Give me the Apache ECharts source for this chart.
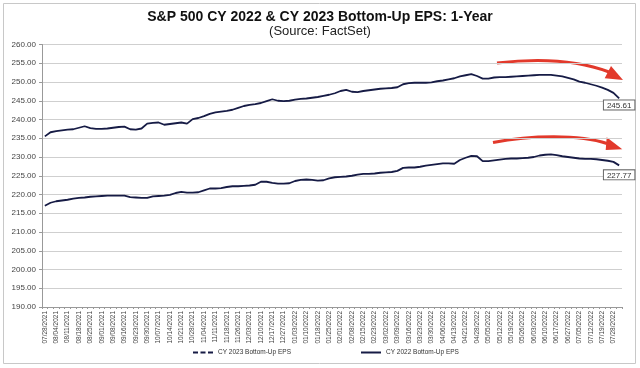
<!DOCTYPE html>
<html>
<head>
<meta charset="utf-8">
<script src="https://cdn.jsdelivr.net/npm/echarts@6/dist/echarts.min.js"></script>
<style>
  html, body { margin: 0; padding: 0; background: #fff; }
  #chart { width: 640px; height: 368px; }
</style>
</head>
<body>
<div id="chart"></div>
<script>
// Tick labels (weekly), each followed by one unlabeled mid-week point
const dateLabels = [
  '07/28/2021','08/04/2021','08/11/2021','08/18/2021','08/25/2021','09/01/2021','09/08/2021','09/16/2021','09/23/2021','09/30/2021',
  '10/07/2021','10/14/2021','10/21/2021','10/28/2021','11/04/2021','11/11/2021','11/18/2021','11/26/2021','12/03/2021','12/10/2021',
  '12/17/2021','12/27/2021','01/03/2022','01/10/2022','01/18/2022','01/25/2022','02/01/2022','02/08/2022','02/15/2022','02/23/2022',
  '03/02/2022','03/09/2022','03/16/2022','03/23/2022','03/30/2022','04/06/2022','04/13/2022','04/21/2022','04/28/2022','05/05/2022',
  '05/12/2022','05/19/2022','05/26/2022','06/03/2022','06/10/2022','06/17/2022','06/27/2022','07/05/2022','07/12/2022','07/19/2022',
  '07/28/2022'
];

// CY 2023 Bottom-Up EPS (upper line)
const cy2023 = [
  235.5,236.6,236.9,237.1,237.3,237.4,237.8,238.2,237.7,237.5,
  237.5,237.6,237.8,238.0,238.1,237.4,237.3,237.6,238.9,239.1,
  239.2,238.6,238.8,239.0,239.2,238.9,240.1,240.4,240.9,241.5,
  241.9,242.1,242.3,242.6,243.1,243.6,243.9,244.1,244.4,244.9,
  245.4,245.0,244.9,245.0,245.3,245.5,245.6,245.8,246.0,246.3,
  246.6,247.0,247.6,247.9,247.4,247.3,247.6,247.8,248.0,248.2,
  248.3,248.4,248.6,249.4,249.7,249.8,249.8,249.8,249.9,250.2,
  250.4,250.7,251.0,251.5,251.8,252.1,251.6,250.9,250.9,251.2,
  251.3,251.3,251.4,251.5,251.6,251.7,251.8,251.9,251.9,251.9,
  251.7,251.5,251.1,250.7,250.1,249.8,249.4,249.0,248.5,247.9,
  247.1,245.61
];

// CY 2022 Bottom-Up EPS (lower line)
const cy2022 = [
  217.0,217.8,218.2,218.4,218.6,218.9,219.1,219.2,219.4,219.5,
  219.6,219.7,219.7,219.7,219.7,219.3,219.2,219.1,219.1,219.5,
  219.6,219.7,219.9,220.4,220.7,220.5,220.5,220.6,221.1,221.6,
  221.6,221.7,222.0,222.2,222.2,222.3,222.4,222.6,223.4,223.4,
  223.1,222.9,222.9,223.0,223.6,223.9,224.0,223.9,223.7,223.8,
  224.3,224.6,224.7,224.8,225.0,225.3,225.5,225.5,225.6,225.8,
  225.9,226.0,226.3,227.1,227.2,227.2,227.4,227.7,227.9,228.1,
  228.3,228.3,228.2,229.2,229.8,230.3,230.2,228.9,228.9,229.1,
  229.3,229.5,229.6,229.6,229.7,229.8,230.0,230.4,230.6,230.7,
  230.5,230.2,230.0,229.8,229.6,229.5,229.5,229.4,229.2,229.0,
  228.7,227.77
];

const seriesNames = ['CY 2023 Bottom-Up EPS', 'CY 2022 Bottom-Up EPS'];
const lineColor = '#161b45';
const font = 'Liberation Sans, Arial, sans-serif';

const categories = [];
dateLabels.forEach(d => { categories.push(d); categories.push(''); });

function endMark(arr, dist) {
  const last = arr[arr.length - 1];
  return {
    symbol: 'rect', symbolSize: 0, silent: true,
    label: {
      show: true, position: 'bottom', distance: dist,
      formatter: () => last.toFixed(2),
      fontFamily: font, fontSize: 8, color: '#333',
      backgroundColor: '#fff', borderColor: '#666', borderWidth: 1, padding: [1, 3, 0, 3]
    },
    data: [{ coord: [arr.length - 1, last], value: last }]
  };
}

const chart = echarts.init(document.getElementById('chart'), null, { renderer: 'canvas' });

chart.setOption({
  animation: false,
  backgroundColor: '#fff',
  title: {
    text: 'S&P 500 CY 2022 & CY 2023 Bottom-Up EPS: 1-Year',
    subtext: '(Source: FactSet)',
    left: 'center', top: 5, itemGap: 1,
    textStyle: { fontFamily: font, fontSize: 14, fontWeight: 'bold', color: '#111' },
    subtextStyle: { fontFamily: font, fontSize: 13, color: '#222' }
  },
  grid: { left: 42, right: 18, top: 44.5, bottom: 61, containLabel: false },
  legend: {
    bottom: 7, left: 188, itemGap: 70, itemWidth: 20, itemHeight: 2,
    symbolKeepAspect: false,
    textStyle: { fontFamily: font, fontSize: 6.5, color: '#333' },
    data: [
      { name: seriesNames[0], icon: 'path://M0,0h4v2h-4z M6,0h4v2h-4z M12,0h4v2h-4z' },
      { name: seriesNames[1], icon: 'path://M0,0h16v2h-16z' }
    ]
  },
  xAxis: {
    type: 'category', data: categories, boundaryGap: true,
    axisLine: { lineStyle: { color: '#999', width: 1 } },
    axisTick: { show: true, interval: 0, length: 2, lineStyle: { color: '#999' } },
    axisLabel: { interval: 1, rotate: 90, fontFamily: font, fontSize: 6.5, color: '#444', margin: 4 },
    splitLine: { show: false }
  },
  yAxis: {
    type: 'value', min: 190, max: 260, interval: 5,
    axisLine: { show: true, lineStyle: { color: '#999' } },
    axisTick: { show: true, length: 3, lineStyle: { color: '#999' } },
    axisLabel: { formatter: v => v.toFixed(2), fontFamily: font, fontSize: 8, color: '#444', margin: 6 },
    splitLine: { lineStyle: { color: '#cfcfcf', width: 1 } }
  },
  series: [
    {
      name: seriesNames[0], type: 'line', data: cy2023,
      symbol: 'none', lineStyle: { color: lineColor, width: 1.8 }, itemStyle: { color: lineColor },
      markPoint: endMark(cy2023, 2)
    },
    {
      name: seriesNames[1], type: 'line', data: cy2022,
      symbol: 'none', lineStyle: { color: lineColor, width: 1.8 }, itemStyle: { color: lineColor },
      markPoint: endMark(cy2022, 5)
    }
  ],
  graphic: [
    { type: 'rect', shape: { x: 3.5, y: 3.5, width: 632, height: 360 }, style: { fill: 'none', stroke: '#c8c8c8', lineWidth: 1 }, silent: true },
    { type: 'bezierCurve', shape: { x1: 497, y1: 63, cpx1: 540, cpy1: 58, cpx2: 580, cpy2: 61, x2: 609, y2: 72 },
      style: { stroke: '#e2392b', lineWidth: 3, fill: 'none' } },
    { type: 'polygon', shape: { points: [[623, 80], [611, 65.9], [604.7, 78.3]] }, style: { fill: '#e2392b' } },
    { type: 'bezierCurve', shape: { x1: 493, y1: 142.5, cpx1: 530, cpy1: 135, cpx2: 580, cpy2: 134, x2: 607, y2: 143.5 },
      style: { stroke: '#e2392b', lineWidth: 3, fill: 'none' } },
    { type: 'polygon', shape: { points: [[622.3, 149.3], [606.7, 137.3], [605.7, 150]] }, style: { fill: '#e2392b' } }
  ]
});
</script>
</body>
</html>
